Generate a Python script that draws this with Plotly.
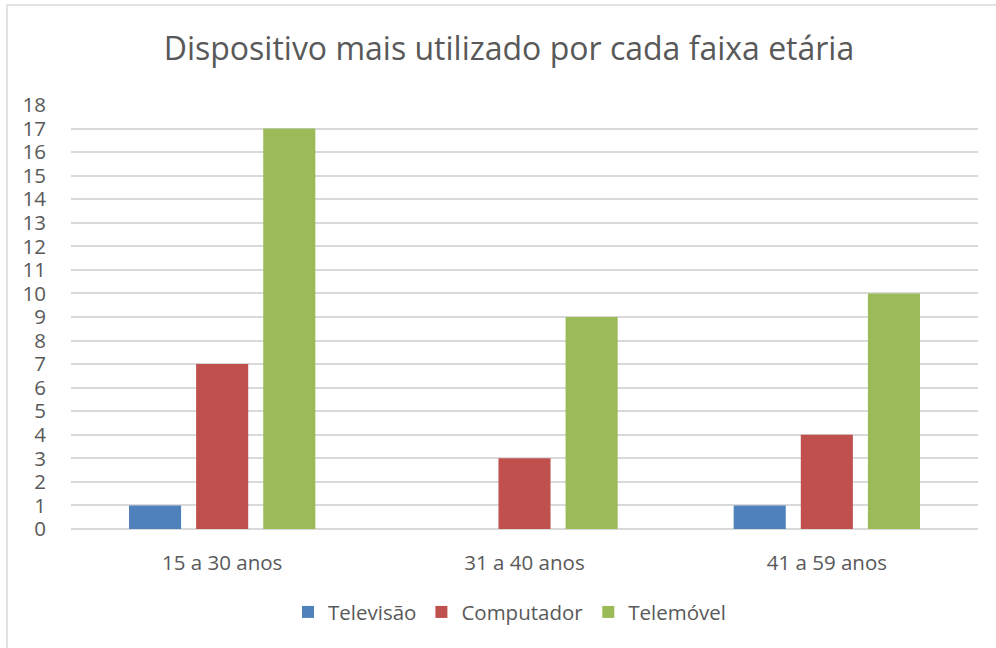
import plotly.graph_objects as go

# dados
faixas = ["15 a 30 anos", "31 a 40 anos", "41 a 59 anos"]
televisao = [1, 0, 1]
computador = [7, 3, 4]
telemovel = [17, 9, 10]

cores = {"Televisão": "#4F81BD", "Computador": "#C0504D", "Telemóvel": "#9BBB59"}
fonte = "Open Sans"
cinza = "#595959"

fig = go.Figure()
for nome, valores in [("Televisão", televisao), ("Computador", computador), ("Telemóvel", telemovel)]:
    fig.add_trace(go.Bar(x=faixas, y=valores, name=nome, marker_color=cores[nome],
                         marker_line_width=0))

fig.update_layout(
    width=996, height=648,
    barmode="group", bargap=0.334, bargroupgap=0.224,
    paper_bgcolor="white", plot_bgcolor="white",
    margin=dict(l=71, r=18, t=105, b=119),
    font=dict(family=fonte, color=cinza, size=20),
    title=dict(text="Dispositivo mais utilizado por cada faixa etária",
               x=0.511, y=0.924, xanchor="center", yanchor="middle",
               font=dict(size=32, color=cinza, family=fonte)),
    legend=dict(orientation="h", x=0.484, y=-0.196, xanchor="center", yanchor="middle",
                font=dict(size=20.5, color=cinza), itemwidth=30, traceorder="normal"),
    showlegend=True,
)
fig.update_yaxes(range=[0, 18], dtick=1, showgrid=True, gridcolor="#D9D9D9", gridwidth=1.5,
                 zeroline=True, zerolinecolor="#D9D9D9", zerolinewidth=1.5,
                 showline=False, ticks="outside", ticklen=20, tickcolor="rgba(0,0,0,0)",
                 tickfont=dict(size=20.5, color=cinza))
fig.update_xaxes(showgrid=False, showline=False, ticks="outside", ticklen=15,
                 tickcolor="rgba(0,0,0,0)", tickfont=dict(size=20.5, color=cinza))

# moldura do gráfico
fig.add_shape(type="rect", xref="paper", yref="paper", x0=-0.0706, x1=1.05, y0=-0.4, y1=1.2358,
              line=dict(color="#D9D9D9", width=1.5), fillcolor="rgba(0,0,0,0)", layer="below")

fig.write_html("out.html", config={"displayModeBar": False},
               post_script="document.body.style.margin='0';")
